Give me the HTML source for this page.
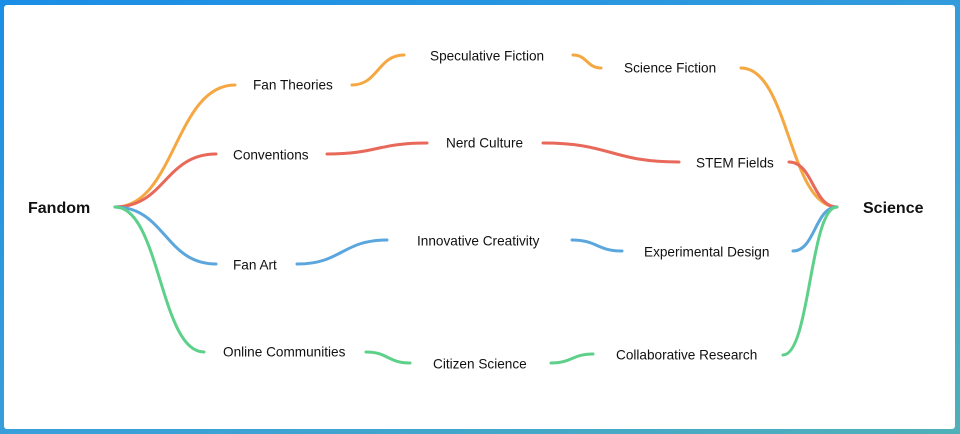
<!DOCTYPE html>
<html><head><style>
html,body{margin:0;padding:0;width:960px;height:434px;overflow:hidden;background:linear-gradient(160deg,#1a8ee6,#3aa0d8 60%,#4fb0b8);}
.p{position:absolute;left:4px;top:5px;width:951px;height:424px;background:#fff;border-radius:3px;}
svg{position:absolute;left:0;top:0}
text{font-family:"Liberation Sans",sans-serif;font-size:13.6px;fill:#111;dominant-baseline:middle}
</style></head><body>
<div class="p"></div>
<svg width="960" height="434" fill="none" stroke-width="3" stroke-linecap="round">
<g stroke="#f5a742">
<path d="M115 207 C175 207 175 85 235 85"/>
<path d="M352 85 C378 85 378 55 404 55"/>
<path d="M573 55 C587 55 587 68 601 68"/>
<path d="M741 68 C789 68 789 207 837 207"/>
</g>
<g stroke="#e8695a">
<path d="M115 207 C165 207 165 154 216 154"/>
<path d="M327 154 C377 154 377 143 427 143"/>
<path d="M543 143 C611 143 611 162 679 162"/>
<path d="M789 162 C813 162 813 207 837 207"/>
</g>
<g stroke="#5aa6dd">
<path d="M115 207 C165 207 165 264 216 264"/>
<path d="M297 264 C342 264 342 240 387 240"/>
<path d="M572 240 C597 240 597 251 622 251"/>
<path d="M793 251 C815 251 815 207 837 207"/>
</g>
<g stroke="#5dd08a">
<path d="M115 207 C160 207 160 352 204 352"/>
<path d="M366 352 C388 352 388 363 410 363"/>
<path d="M551 363 C572 363 572 354 593 354"/>
<path d="M783 355 C810 355 810 207 837 207"/>
</g>
</svg>
<svg width="960" height="434">
<text x="28" y="209" style="font-size:16px;font-weight:bold">Fandom</text>
<text x="863" y="209" style="font-size:16px;font-weight:bold">Science</text>
<text x="253" y="86">Fan Theories</text>
<text x="233" y="156">Conventions</text>
<text x="233" y="266">Fan Art</text>
<text x="223" y="353">Online Communities</text>
<text x="430" y="57">Speculative Fiction</text>
<text x="446" y="144">Nerd Culture</text>
<text x="417" y="242">Innovative Creativity</text>
<text x="433" y="365">Citizen Science</text>
<text x="624" y="69">Science Fiction</text>
<text x="696" y="164">STEM Fields</text>
<text x="644" y="253">Experimental Design</text>
<text x="616" y="356">Collaborative Research</text>
</svg>
</body></html>
